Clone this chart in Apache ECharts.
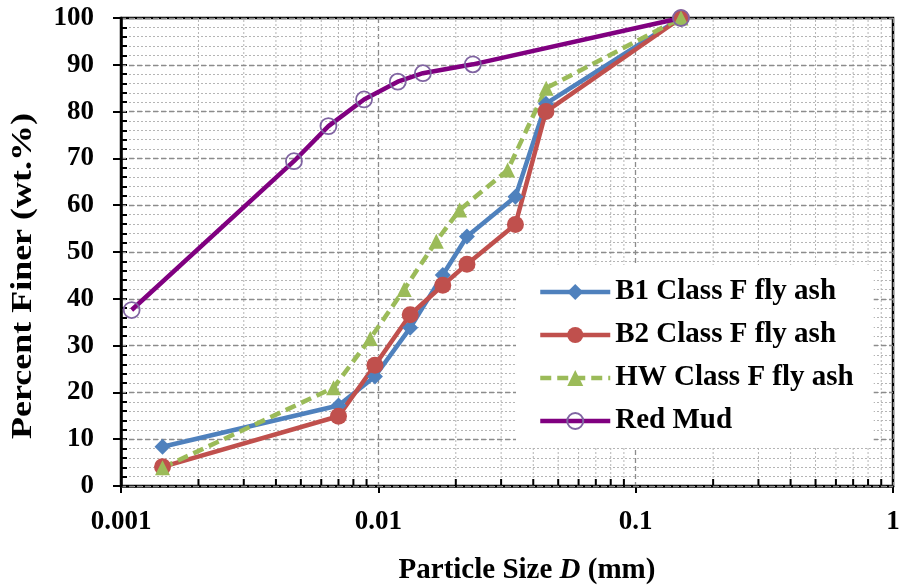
<!DOCTYPE html>
<html>
<head>
<meta charset="utf-8">
<script src="https://cdn.jsdelivr.net/npm/echarts@6/dist/echarts.min.js"></script>
<style>
  html, body { margin: 0; padding: 0; background: #fff; }
  #chart { width: 899px; height: 586px; }
</style>
</head>
<body>
<div id="chart"></div>
<script>
// Particle size distribution data (size in mm, percent finer by weight)
const sizesB = [0.00145, 0.0070, 0.0097, 0.0133, 0.0178, 0.0221, 0.0341, 0.0448, 0.15];
const finerB1 = [8.4, 17.2, 23.4, 33.8, 45.1, 53.3, 61.8, 81.7, 100];
const finerB2 = [4.1, 14.9, 25.8, 36.6, 42.9, 47.4, 55.9, 80.0, 100];
const sizesHW = [0.00145, 0.0067, 0.0093, 0.0126, 0.0168, 0.0207, 0.0318, 0.0449, 0.15];
const finerHW = [3.9, 21.0, 31.5, 42.0, 52.3, 59.0, 67.5, 85.0, 100];
const sizesRM = [0.0011, 0.0047, 0.0064, 0.0088, 0.0119, 0.0149, 0.0233, 0.15];
const finerRM = [37.6, 69.4, 76.9, 82.6, 86.4, 88.2, 90.1, 100];

const seriesNames = ['B1 Class F fly ash', 'B2 Class F fly ash', 'HW Class F fly ash', 'Red Mud'];
const yTitle = 'Percent Finer (wt.%)';
// intermediate log-decade values (2..9 within each decade) for minor grid
const minorX = [];
for (let d = 0.001; d < 0.5; d *= 10) {
  for (let k = 2; k <= 9; k++) minorX.push(Number((k * d).toPrecision(3)));
}

const FONT = "'Liberation Serif', 'Times New Roman', serif";
const pair = (xs, ys) => xs.map((x, i) => [x, ys[i]]);

const chart = echarts.init(document.getElementById('chart'), null, { renderer: 'canvas' });

chart.setOption({
  animation: false,
  backgroundColor: '#fff',
  textStyle: { fontFamily: FONT },
  grid: {
    left: 121, right: 6, top: 18, bottom: 100,
    outerBoundsMode: 'none', containLabel: false,
    show: true, borderColor: '#000', borderWidth: 2.5, backgroundColor: 'transparent'
  },
  graphic: [{
    // vertical axis title, stretched along its reading direction
    type: 'text',
    x: 24, y: 276,
    rotation: Math.PI / 2,
    scaleX: 1.24,
    style: {
      text: yTitle,
      font: "bold 29px 'Liberation Serif', 'Times New Roman', serif",
      fill: '#000',
      align: 'center',
      verticalAlign: 'middle'
    }
  }],
  legend: {
    data: seriesNames,
    orient: 'vertical',
    left: 516, top: 265,
    width: 352,
    backgroundColor: '#fff',
    padding: [12, 20, 12, 22],
    itemWidth: 70, itemHeight: 20, itemGap: 13,
    lineStyle: { width: 4.5 },
    textStyle: { fontFamily: FONT, fontWeight: 'bold', fontSize: 29, color: '#000', lineHeight: 30 }
  },
  xAxis: [{
    type: 'log', logBase: 10, min: 0.001, max: 1,
    name: '{n|Particle Size }{i|D}{n| (mm)}',
    nameLocation: 'middle', nameGap: 70,
    nameTextStyle: {
      padding: [0, 0, 0, 40],
      rich: {
        n: { fontFamily: FONT, fontWeight: 'bold', fontSize: 29, color: '#000' },
        i: { fontFamily: FONT, fontWeight: 'bold', fontStyle: 'italic', fontSize: 29, color: '#000' }
      }
    },
    axisLine: { show: true, onZero: false, lineStyle: { color: '#000', width: 2.5 } },
    axisTick: { show: true, inside: false, length: 7, lineStyle: { color: '#000', width: 2 } },
    axisLabel: {
      margin: 23, fontFamily: FONT, fontWeight: 'bold', fontSize: 27, color: '#000',
      formatter: v => String(Number(v.toPrecision(3)))
    },
    splitLine: { show: true, lineStyle: { color: '#8c8c8c', width: 1.3, type: [5, 3] } }
  }],
  yAxis: [{
    type: 'value', min: 0, max: 100, interval: 10,
    axisLine: { show: true, lineStyle: { color: '#000', width: 2.5 } },
    axisTick: { show: true, inside: false, length: 8, lineStyle: { color: '#000', width: 2 } },
    axisLabel: { margin: 27, fontFamily: FONT, fontWeight: 'bold', fontSize: 27, color: '#000' },
    splitLine: { show: true, lineStyle: { color: '#8c8c8c', width: 1.3, type: [5, 3] } },
    z: 3
  }, {
    // inner tick marks and dotted grid every 2 %
    type: 'value', min: 0, max: 100, interval: 2, position: 'left', offset: 0,
    axisLine: { show: false },
    axisTick: { show: true, inside: true, length: 6, lineStyle: { color: '#000', width: 2 } },
    axisLabel: { show: false },
    splitLine: { show: true, lineStyle: { color: '#b5b5b5', width: 1, type: [2, 2] } },
    z: 2
  }],
  series: [
    {
      // minor decade grid lines and inner ticks on the log axis
      type: 'custom',
      name: 'minor',
      silent: true,
      z: 1,
      data: minorX.map(v => [v, 0]),
      encode: { x: 0, y: 1 },
      renderItem: function (params, api) {
        const p0 = api.coord([api.value(0), 0]);
        const p1 = api.coord([api.value(0), 100]);
        return {
          type: 'group',
          children: [
            { type: 'line', shape: { x1: p0[0], y1: p0[1], x2: p1[0], y2: p1[1] },
              style: { stroke: '#b5b5b5', lineWidth: 1, lineDash: [2, 2] } },
            { type: 'line', shape: { x1: p0[0], y1: p0[1], x2: p0[0], y2: p0[1] - 7 },
              style: { stroke: '#000', lineWidth: 2 }, z2: 10 }
          ]
        };
      }
    },
    {
      name: seriesNames[0], type: 'line', data: pair(sizesB, finerB1),
      symbol: 'diamond', symbolSize: 16,
      lineStyle: { color: '#4F81BD', width: 4.5 },
      itemStyle: { color: '#4F81BD' }
    },
    {
      name: seriesNames[1], type: 'line', data: pair(sizesB, finerB2),
      symbol: 'circle', symbolSize: 17,
      lineStyle: { color: '#C0504D', width: 4.5 },
      itemStyle: { color: '#C0504D' }
    },
    {
      name: seriesNames[2], type: 'line', data: pair(sizesHW, finerHW),
      symbol: 'triangle', symbolSize: 15,
      lineStyle: { color: '#9BBB59', width: 4.5, type: [11, 6], cap: 'butt' },
      itemStyle: { color: '#9BBB59' }
    },
    {
      name: seriesNames[3], type: 'line', data: pair(sizesRM, finerRM),
      symbol: 'circle', symbolSize: 16,
      lineStyle: { color: '#800080', width: 4.5 },
      itemStyle: { color: 'rgba(255,255,255,0)', borderColor: '#8064A2', borderWidth: 1.8 }
    }
  ]
});
</script>
</body>
</html>
